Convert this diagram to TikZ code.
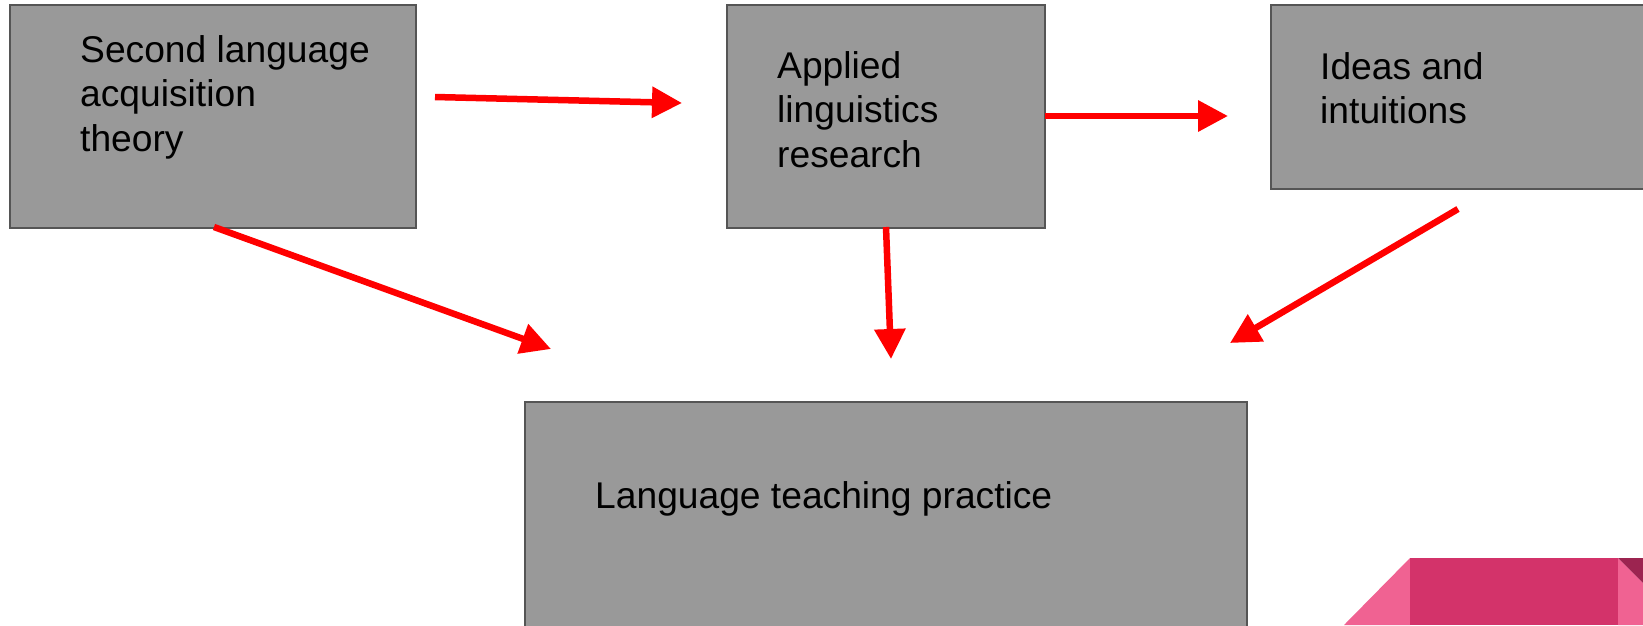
\documentclass[tikz,border=0pt]{standalone}
\usepackage{fontspec}
\setmainfont{Liberation Sans}
\usetikzlibrary{arrows.meta}
\definecolor{boxfill}{HTML}{999999}
\definecolor{boxline}{HTML}{555555}
\definecolor{arrred}{HTML}{FF0000}
\definecolor{pinklight}{HTML}{F06292}
\definecolor{pinkmid}{HTML}{D3336A}
\definecolor{pinkdark}{HTML}{9C2450}
\tikzset{
  graybox/.style={draw=boxline, fill=boxfill, line width=1.5pt, rectangle, anchor=north west, inner sep=0pt, outer sep=0pt},
  boxtext/.style={anchor=north west, inner sep=0pt, align=left, font=\fontsize{37.2}{44.5}\selectfont, text=black},
  redarrow/.style={draw=arrred, line width=6.5pt, -{Triangle[length=30pt,width=30pt]}}
}
\begin{document}
\begin{tikzpicture}[x=1pt,y=-1pt]
\useasboundingbox (0,0) rectangle (1643,625);
\clip (0,0) rectangle (1643,625);
% boxes
\node[graybox, minimum width=406pt, minimum height=223pt] (sla) at (10,5) {};
\node[graybox, minimum width=318pt, minimum height=223pt] (alr) at (727,5) {};
\node[graybox, minimum width=400pt, minimum height=184pt] (idea) at (1271,5) {};
\node[graybox, minimum width=722pt, minimum height=240pt] (ltp) at (525,402) {};
% texts
\node[boxtext] (slat) at (80,35) {Second language\\acquisition\\theory};
\node[boxtext] (alrt) at (777,51) {Applied\\linguistics\\research};
\node[boxtext] (ideat) at (1320,52) {Ideas and\\intuitions};
\node[boxtext] (ltpt) at (595,481) {Language teaching practice};
% arrow endpoints
\coordinate (a1s) at (435,97);   \coordinate (a1e) at (682,103);
\coordinate (a2s) at (1045,116); \coordinate (a2e) at (1228,116);
\coordinate (a3s) at (214,227);  \coordinate (a3e) at (551,349);
\coordinate (a4s) at (886,227);  \coordinate (a4e) at (891,359);
\coordinate (a5s) at (1458,209); \coordinate (a5e) at (1230,343);
\draw[redarrow] (a1s) -- (a1e);
\draw[redarrow] (a2s) -- (a2e);
\draw[redarrow] (a3s) -- (a3e);
\draw[redarrow] (a4s) -- (a4e);
\draw[redarrow] (a5s) -- (a5e);
% decorative ribbon bottom right
\fill[pinklight] (1344,625) -- (1410,558) -- (1410,625) -- cycle;
\fill[pinkmid] (1410,558) rectangle (1618,625);
\fill[pinklight] (1618,558) -- (1643,583) -- (1643,625) -- (1618,625) -- cycle;
\fill[pinkdark] (1618,558) -- (1643,558) -- (1643,583) -- cycle;
\end{tikzpicture}
\end{document}
